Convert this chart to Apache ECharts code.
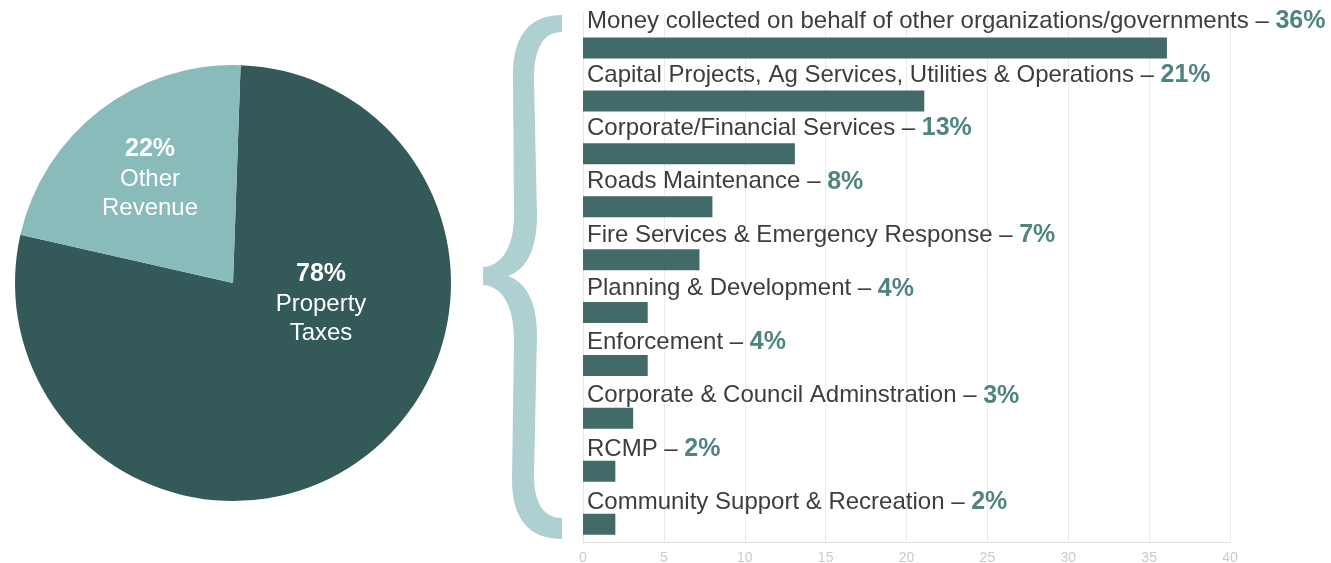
<!DOCTYPE html>
<html>
<head>
<meta charset="utf-8">
<script src="https://cdn.jsdelivr.net/npm/echarts@6/dist/echarts.min.js"></script>
<style>
html,body{margin:0;padding:0;background:#fff;}
#chart{width:1331px;height:563px;}
</style>
</head>
<body>
<div id="chart"></div>
<script>
// Pie data
var pieNames = ['Property\nTaxes', 'Other\nRevenue'];
var pieValues = [78, 22];
var piePercentLabels = ['78%', '22%'];

// Bar data (top to bottom)
var categories = [
  'Money collected on behalf of other organizations/governments',
  'Capital Projects, Ag Services, Utilities & Operations',
  'Corporate/Financial Services',
  'Roads Maintenance',
  'Fire Services & Emergency Response',
  'Planning & Development',
  'Enforcement',
  'Corporate & Council Adminstration',
  'RCMP',
  'Community Support & Recreation'
];
var barValues = [36.1, 21.1, 13.1, 8.0, 7.2, 4.0, 4.0, 3.1, 2.0, 2.0];
var percentLabels = ['36%', '21%', '13%', '8%', '7%', '4%', '4%', '3%', '2%', '2%'];
var xTicks = [0, 5, 10, 15, 20, 25, 30, 35, 40];

var FONT = '"Liberation Sans", Arial, sans-serif';
var chart = echarts.init(document.getElementById('chart'));

var pieLabelPos = [[321, 304], [150, 179]];
var bracePath = 'M 562 15 C 530 15 513 35 513 75 L 514 215 C 514 250 500 266 483 267 L 483 285 C 500 286 514 302 514 340 L 512 480 C 512 520 530 539 562 539 L 562 518 C 545 518 534 505 534 475 L 537 335 C 537 300 525 282 508 276 C 525 270 537 252 537 215 L 534 80 C 534 45 545 32 562 32 Z';

var option = {
  backgroundColor: '#ffffff',
  animation: false,
  textStyle: { fontFamily: FONT },
  grid: [
    { left: 583, right: 101, top: 13, bottom: 21, containLabel: false, outerBoundsMode: 'none' },
    { left: 583, right: 0, top: 21.5, bottom: 60.5, containLabel: false }
  ],
  xAxis: [
    {
      type: 'value',
      gridIndex: 0,
      min: xTicks[0],
      max: xTicks[xTicks.length - 1],
      interval: xTicks[1] - xTicks[0],
      axisLine: { show: true, lineStyle: { color: '#e2e2e2', width: 1 } },
      axisTick: { show: false },
      splitLine: { show: true, lineStyle: { color: '#ebebeb', width: 1 } },
      axisLabel: { color: '#cacaca', fontSize: 14, fontFamily: FONT, margin: 9 }
    },
    {
      type: 'value',
      gridIndex: 1,
      min: 0,
      max: 1,
      show: false
    }
  ],
  yAxis: [
    {
      type: 'category',
      gridIndex: 0,
      inverse: true,
      data: categories,
      axisLine: { show: true, lineStyle: { color: '#e6e6e6' } },
      axisTick: { show: false },
      axisLabel: { show: false },
      splitLine: { show: false }
    },
    {
      type: 'category',
      gridIndex: 1,
      inverse: true,
      boundaryGap: false,
      data: categories,
      axisLine: { show: false },
      axisTick: { show: false },
      splitLine: { show: false },
      axisLabel: {
        show: true,
        inside: true,
        interval: 0,
        margin: 4,
        align: 'left',
        verticalAlign: 'middle',
        formatter: function (value, index) {
          return '{n|' + value + ' – }{p|' + percentLabels[index] + '}';
        },
        rich: {
          n: { color: '#3d3d3d', fontSize: 24, fontFamily: FONT },
          p: { color: '#4f8581', fontSize: 25, fontWeight: 'bold', fontFamily: FONT }
        }
      }
    }
  ],
  series: [
    {
      type: 'pie',
      center: [233, 283],
      radius: 218,
      startAngle: 88,
      clockwise: true,
      silent: true,
      data: pieValues.map(function (v, i) {
        return { value: v, name: pieNames[i] };
      }),
      color: ['#335a58', '#89bbbb'],
      itemStyle: { borderWidth: 0 },
      label: {
        show: true,
        position: 'inside',
        formatter: function (p) {
          var lines = p.name.split('\n');
          return '{b|' + piePercentLabels[p.dataIndex] + '}\n{n|' + lines[0] + '}\n{n|' + lines[1] + '}';
        },
        align: 'center',
        rich: {
          b: { color: '#ffffff', fontSize: 25, fontWeight: 'bold', fontFamily: FONT, lineHeight: 29.5, align: 'center' },
          n: { color: '#ffffff', fontSize: 24, fontFamily: FONT, lineHeight: 29.5, align: 'center' }
        }
      },
      labelLine: { show: false },
      labelLayout: function (params) {
        var pos = pieLabelPos[params.dataIndex];
        return { x: pos[0], y: pos[1], align: 'center', verticalAlign: 'middle' };
      }
    },
    {
      type: 'bar',
      name: 'spacer',
      xAxisIndex: 0,
      yAxisIndex: 0,
      data: barValues.map(function () { return 0; }),
      barWidth: 21,
      barGap: '-18%',
      itemStyle: { color: 'rgba(0,0,0,0)' },
      silent: true
    },
    {
      type: 'bar',
      name: 'share',
      xAxisIndex: 0,
      yAxisIndex: 0,
      data: barValues,
      barWidth: 21,
      itemStyle: { color: '#426a68' },
      silent: true
    },
    {
      type: 'custom',
      coordinateSystem: 'none',
      silent: true,
      data: [0],
      renderItem: function () {
        return {
          type: 'path',
          shape: { pathData: bracePath, x: 483, y: 15, width: 79, height: 524, layout: 'cover' },
          style: { fill: '#aed0d0' }
        };
      }
    }
  ]
};
chart.setOption(option);
</script>
</body>
</html>
